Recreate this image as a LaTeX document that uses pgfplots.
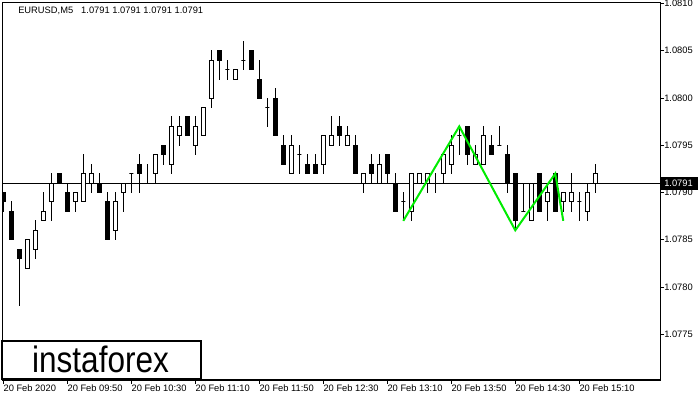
\documentclass[border=0pt]{standalone}
\usepackage{fontspec}
\setmainfont{Liberation Sans}
\usepackage{pgfplots}
\usepackage{pgfplotstable}
\pgfplotsset{compat=1.18}
\definecolor{limeg}{RGB}{0,235,0}

\pgfplotstableread{
k O H L C
0 1.0790 1.0790 1.0788 1.0789
1 1.0788 1.0789 1.0785 1.0785
2 1.0784 1.0784 1.0778 1.0783
3 1.0782 1.0785 1.0782 1.0785
4 1.0784 1.0787 1.0783 1.0786
5 1.0787 1.0790 1.0787 1.0788
6 1.0789 1.0792 1.0787 1.0791
7 1.0792 1.0792 1.0791 1.0791
8 1.0790 1.0791 1.0788 1.0788
9 1.0789 1.0790 1.0788 1.0790
10 1.0789 1.0794 1.0789 1.0792
11 1.0791 1.0793 1.0790 1.0792
12 1.0791 1.0792 1.0790 1.0790
13 1.0789 1.0790 1.0785 1.0785
14 1.0786 1.0790 1.0785 1.0789
15 1.0790 1.0791 1.0788 1.0791
16 1.0792 1.0792 1.0790 1.0792
17 1.0793 1.0794 1.0790 1.0792
18 1.0791 1.0793 1.0791 1.0791
19 1.0792 1.0794 1.0791 1.0794
20 1.0795 1.0795 1.0793 1.0794
21 1.0793 1.0798 1.0792 1.0797
22 1.0796 1.0798 1.0795 1.0797
23 1.0798 1.0798 1.0796 1.0796
24 1.0795 1.0798 1.0794 1.0797
25 1.0796 1.0799 1.0796 1.0799
26 1.0800 1.0805 1.0799 1.0804
27 1.0805 1.0805 1.0802 1.0804
28 1.0803 1.0804 1.0802 1.0803
29 1.0802 1.0803 1.0802 1.0803
30 1.0804 1.0806 1.0803 1.0804
31 1.0805 1.0805 1.0803 1.0803
32 1.0802 1.0804 1.0800 1.0800
33 1.0799 1.0800 1.0797 1.0799
34 1.0800 1.0801 1.0796 1.0796
35 1.0795 1.0796 1.0793 1.0793
36 1.0792 1.0796 1.0792 1.0795
37 1.0794 1.0795 1.0792 1.0794
38 1.0793 1.0794 1.0792 1.0792
39 1.0793 1.0794 1.0792 1.0792
40 1.0793 1.0796 1.0792 1.0796
41 1.0795 1.0798 1.0795 1.0796
42 1.0797 1.0798 1.0795 1.0796
43 1.0795 1.0797 1.0795 1.0796
44 1.0795 1.0796 1.0792 1.0792
45 1.0791 1.0792 1.0790 1.0792
46 1.0793 1.0794 1.0791 1.0792
47 1.0791 1.0794 1.0791 1.0793
48 1.0794 1.0794 1.0791 1.0792
49 1.0791 1.0792 1.0788 1.0788
50 1.0789 1.0790 1.0787 1.0789
51 1.0788 1.0792 1.0787 1.0792
52 1.0791 1.0792 1.0791 1.0792
53 1.0791 1.0792 1.0790 1.0792
54 1.0791 1.0792 1.0790 1.0791
55 1.0792 1.0794 1.0791 1.0794
56 1.0793 1.0796 1.0792 1.0795
57 1.0796 1.0797 1.0794 1.0796
58 1.0797 1.0797 1.0793 1.0794
59 1.0793 1.0795 1.0793 1.0794
60 1.0793 1.0797 1.0793 1.0796
61 1.0795 1.0796 1.0794 1.0794
62 1.0795 1.0797 1.0795 1.0795
63 1.0794 1.0795 1.0790 1.0791
64 1.0792 1.0792 1.0786 1.0787
65 1.0788 1.0791 1.0788 1.0788
66 1.0787 1.0791 1.0787 1.0791
67 1.0792 1.0792 1.0788 1.0788
68 1.0789 1.0791 1.0787 1.0790
69 1.0792 1.0792 1.0788 1.0788
70 1.0789 1.0790 1.0788 1.0790
71 1.0789 1.0792 1.0788 1.0790
72 1.0789 1.0790 1.0787 1.0789
73 1.0788 1.0791 1.0787 1.0790
74 1.0791 1.0793 1.0790 1.0792
}\candles

\pgfplotstableread{
k P
50 1.0787
57 1.0797
64 1.0786
69 1.0792
70 1.0787
}\pattern

\begin{document}
\begin{tikzpicture}
\useasboundingbox (0,0) rectangle (525pt,300pt);
\begin{axis}[
  at={(1.5pt,15pt)}, anchor=south west,
  scale only axis, width=493.5pt, height=283.5pt,
  xmin=-0.1625, xmax=82.09,
  ymin=1.077016, ymax=1.081016,
  axis line style={line width=0.75pt, black},
  tick align=outside,
  xtick pos=bottom, ytick pos=right, yticklabel pos=right,
  major tick length=3pt,
  tick style={line width=0.75pt, black},
  xtick={0,8,16,24,32,40,48,56,64,72},
  xticklabels={20 Feb 2020,20 Feb 09:50,20 Feb 10:30,20 Feb 11:10,20 Feb 11:50,20 Feb 12:30,20 Feb 13:10,20 Feb 13:50,20 Feb 14:30,20 Feb 15:10},
  ytick={1.0775,1.078,1.0785,1.079,1.0795,1.08,1.0805,1.081},
  tick label style={font=\fontsize{7}{8}\selectfont, inner sep=0pt},
  xticklabel style={anchor=north west},
  yticklabel style={anchor=west, /pgf/number format/fixed, /pgf/number format/fixed zerofill, /pgf/number format/precision=4, /pgf/number format/assume math mode=true},
]
\addplot[black, line width=0.75pt] coordinates {(-1,1.0791) (83,1.0791)};
\pgfplotsinvokeforeach{0,...,74}{
  \pgfplotstablegetelem{#1}{O}\of\candles \edef\vO{\pgfplotsretval}
  \pgfplotstablegetelem{#1}{H}\of\candles \edef\vH{\pgfplotsretval}
  \pgfplotstablegetelem{#1}{L}\of\candles \edef\vL{\pgfplotsretval}
  \pgfplotstablegetelem{#1}{C}\of\candles \edef\vC{\pgfplotsretval}
  \pgfmathsetmacro\xl{#1-0.25}
  \pgfmathsetmacro\xr{#1+0.25}
  \ifdim\vC pt>\vO pt \def\fc{white}\else\def\fc{black}\fi
  \edef\tmp{\noexpand\addplot[black, line width=0.75pt, line cap=rect] coordinates {(#1,\vL) (#1,\vH)};
    \noexpand\addplot[draw=black, fill=\fc, line width=0.75pt] coordinates {(\xl,\vO) (\xr,\vO) (\xr,\vC) (\xl,\vC)} --cycle;}
  \tmp
}
\addplot[limeg, line width=1.5pt] table[x=k, y=P] {\pattern};
\coordinate (pl) at (axis cs:82.09,1.0791);
\end{axis}
\fill[black] ([xshift=0.75pt]pl) ++(0,-4.9pt) rectangle ++(28pt,9.8pt);
\node[anchor=west, text=white, inner sep=0pt, font=\fontsize{7}{8}\selectfont] at ([xshift=3pt]pl) {1.0791};
\node[anchor=base west, inner sep=0pt, font=\fontsize{7}{8}\selectfont] at (13.5pt,289.5pt) {EURUSD,M5\hspace{6pt}1.0791 1.0791 1.0791 1.0791};
\filldraw[fill=white, draw=black, line width=1.5pt] (1.5pt,15.75pt) rectangle (150.75pt,44.25pt);
\node[anchor=base, inner sep=0pt, xscale=0.86, font=\fontsize{27.5}{28}\selectfont] at (75.4pt,20.5pt) {instaforex};
\end{tikzpicture}
\end{document}
